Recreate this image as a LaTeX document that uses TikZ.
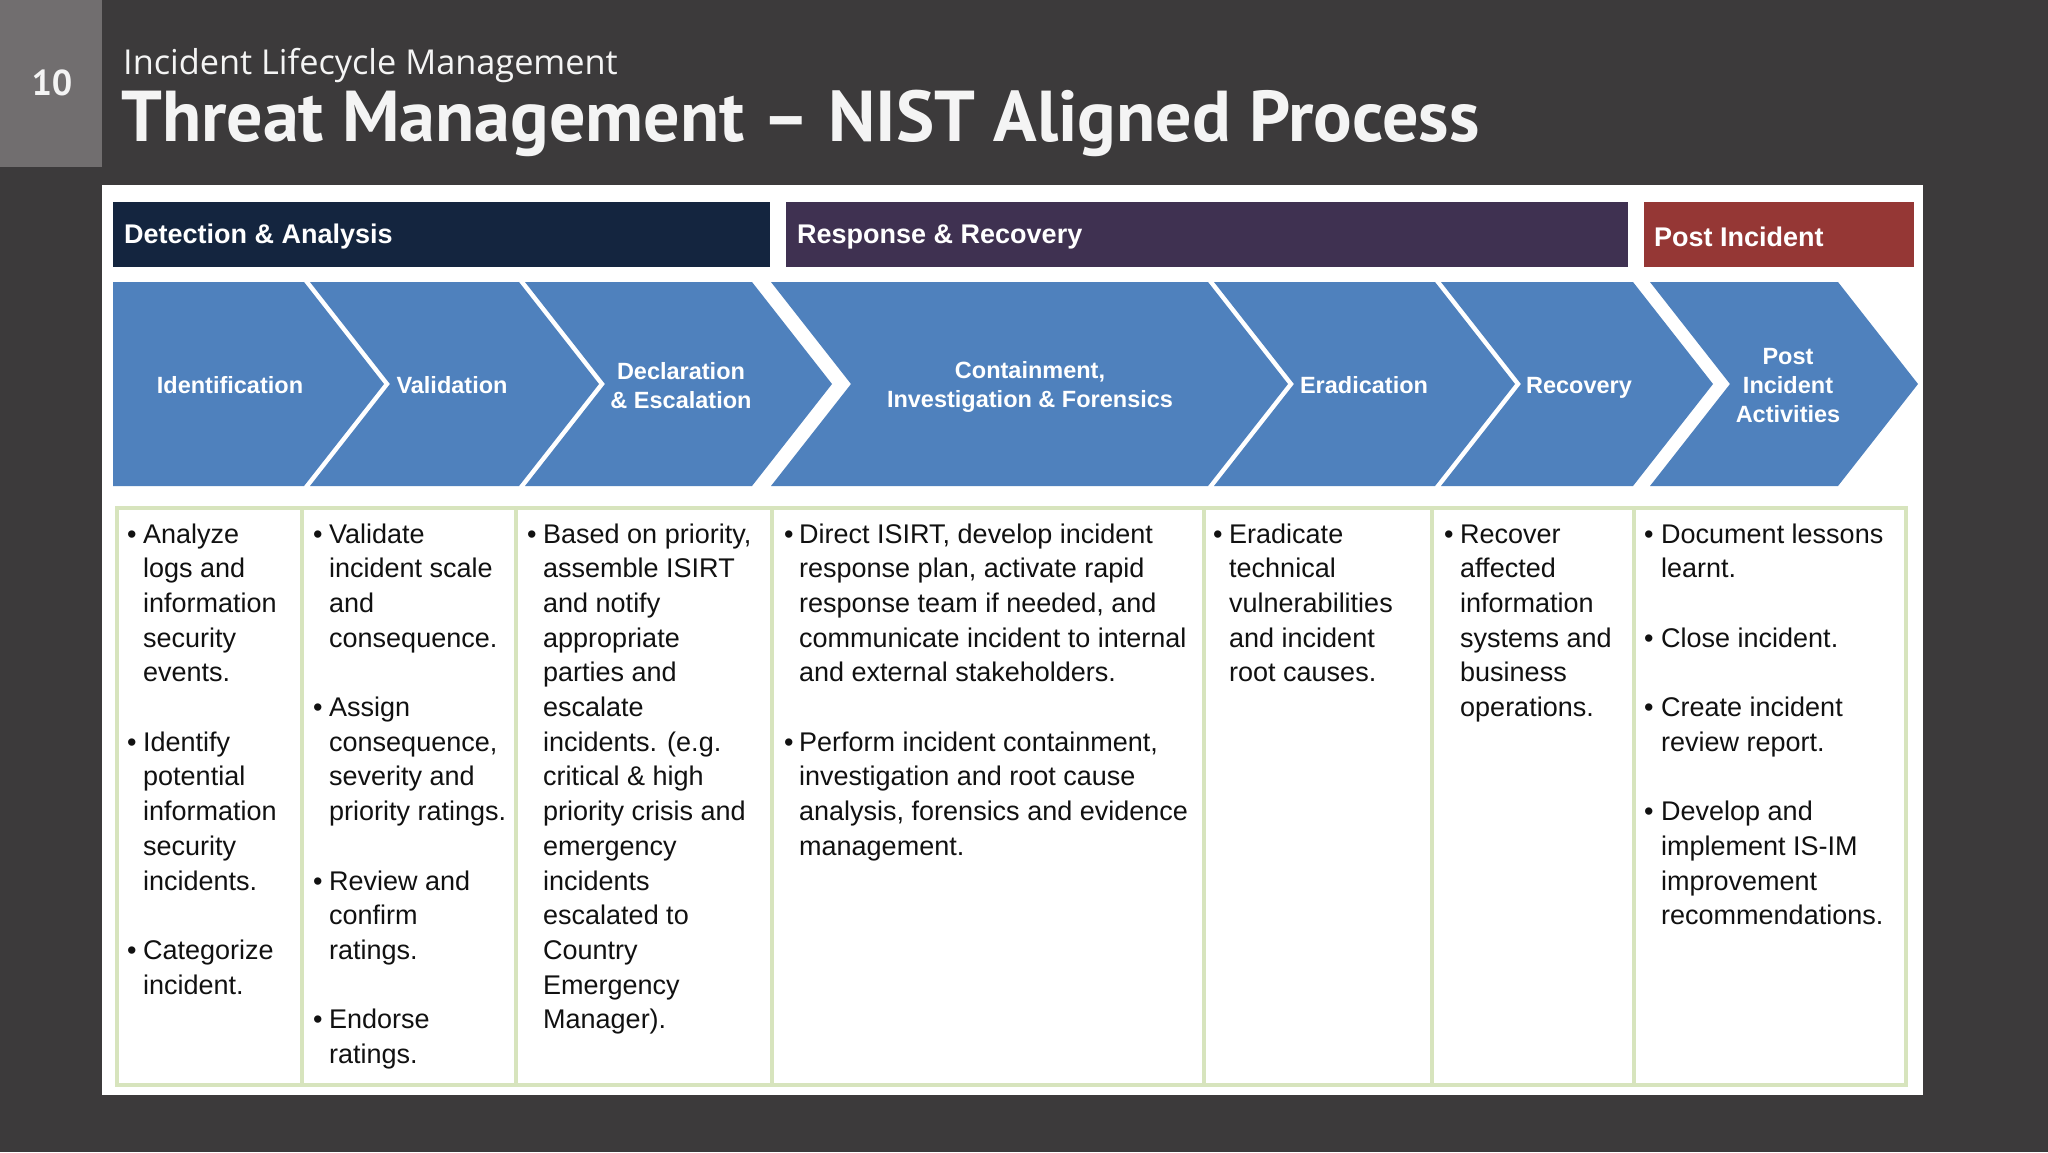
\documentclass[tikz,border=0pt]{standalone}
\usepackage{fontspec}
\setmainfont{Liberation Sans}
\newfontfamily\ttlfont{PT Sans}
\newfontfamily\subfont{Open Sans}
\definecolor{bgdark}{HTML}{3C3A3B}
\definecolor{numgray}{HTML}{716E6F}
\definecolor{navy}{HTML}{14253F}
\definecolor{plum}{HTML}{3F3151}
\definecolor{brick}{HTML}{953735}
\definecolor{chevblue}{HTML}{4F81BD}
\definecolor{cellborder}{HTML}{D7E4BD}
\definecolor{celltxt}{HTML}{111111}
\definecolor{ttlwhite}{HTML}{F4F4F4}
\newcommand\celllines[3]{\foreach \i/\t in {#3} \node[celltext] (c#1-\i) at (#2,{543+34.7*\i}) {\t};}
\newcommand\cellbullets[3]{\foreach \i in {#3} \node[bul] (b#1-\i) at (#2,{543+34.7*\i}) {•};}
\begin{document}
\begin{tikzpicture}[x=1pt,y=-1pt,
  hdrtext/.style={anchor=west,inner sep=0pt,text=white,font=\fontsize{27}{30}\selectfont\bfseries},
  chevlabel/.style={align=center,inner sep=0pt,text=white,font=\fontsize{23.5}{29}\selectfont\bfseries},
  celltext/.style={anchor=base west,inner sep=0pt,text=celltxt,font=\fontsize{27}{34.7}\selectfont},
  bul/.style={anchor=base west,inner sep=0pt,text=celltxt,font=\fontsize{27}{34.7}\selectfont},
  chevron/.style={fill=chevblue},
  cellbox/.style={draw=cellborder,line width=4pt,fill=white}]
\fill[bgdark] (0,0) rectangle (2048,1152);
\useasboundingbox (0,0) rectangle (2048,1152);
% slide number and titles
\fill[numgray] (0,0) rectangle (102,167);
\node[text=ttlwhite,inner sep=0pt,font=\ttlfont\bfseries\fontsize{36}{40}\selectfont] (num) at (52,83) {10};
\node[anchor=base west,inner sep=0pt,text=ttlwhite,font=\subfont\fontsize{34.3}{40}\selectfont] (sub) at (123,74) {Incident Lifecycle Management};
\node[anchor=base west,inner sep=0pt,text=ttlwhite,font=\ttlfont\bfseries\fontsize{72}{80}\selectfont] (title) at (121,141) {Threat Management – NIST Aligned Process};
% white panel
\fill[white] (102,185) rectangle (1923,1095);
% phase headers
\fill[navy] (113,202) rectangle (770,267);
\fill[plum] (786,202) rectangle (1628,267);
\fill[brick] (1644,202) rectangle (1914,267);
\node[hdrtext] (h1) at (124,237) {Detection \& Analysis};
\node[hdrtext] (h2) at (797,237) {Response \& Recovery};
\node[hdrtext] (h3) at (1654,237) {Post Incident};
% chevrons
\fill[chevron] (113,282) -- (304,282) -- (384,384) -- (304,486) -- (113,486) -- cycle;
\fill[chevron] (310,282) -- (519,282) -- (599,384) -- (519,486) -- (310,486) -- (390,384) -- cycle;
\fill[chevron] (525,282) -- (752,282) -- (832,384) -- (752,486) -- (525,486) -- (605,384) -- cycle;
\fill[chevron] (771,282) -- (1208,282) -- (1288,384) -- (1208,486) -- (771,486) -- (851,384) -- cycle;
\fill[chevron] (1214,282) -- (1435,282) -- (1515,384) -- (1435,486) -- (1214,486) -- (1294,384) -- cycle;
\fill[chevron] (1441,282) -- (1633,282) -- (1713,384) -- (1633,486) -- (1441,486) -- (1521,384) -- cycle;
\fill[chevron] (1650,282) -- (1838,282) -- (1918,384) -- (1838,486) -- (1650,486) -- (1730,384) -- cycle;
\node[chevlabel] (l1) at (230,385.5) {Identification};
\node[chevlabel] (l2) at (452,385.5) {Validation};
\node[chevlabel] (l3) at (681,386) {Declaration\\\& Escalation};
\node[chevlabel] (l4) at (1030,386.5) {Containment,\\Investigation \& Forensics};
\node[chevlabel] (l5) at (1364,385.5) {Eradication};
\node[chevlabel] (l6) at (1579,388) {Recovery};
\node[chevlabel] (l7) at (1788,386) {Post\\Incident\\Activities};
% cells
\draw[cellbox] (117,508) rectangle (302,1085);
\draw[cellbox] (302,508) rectangle (516,1085);
\draw[cellbox] (516,508) rectangle (772,1085);
\draw[cellbox] (772,508) rectangle (1204,1085);
\draw[cellbox] (1204,508) rectangle (1432,1085);
\draw[cellbox] (1432,508) rectangle (1634,1085);
\draw[cellbox] (1634,508) rectangle (1906,1085);
% cell text
\cellbullets{1}{127}{0,6,12}
\celllines{1}{143}{0/Analyze,1/logs and,2/information,3/security,4/events.,6/Identify,7/potential,8/information,9/security,10/incidents.,12/Categorize,13/incident.}
\cellbullets{2}{313}{0,5,10,14}
\celllines{2}{329}{0/Validate,1/incident scale,2/and,3/consequence.,5/Assign,6/{consequence,},7/severity and,8/priority ratings.,10/Review and,11/confirm,12/ratings.,14/Endorse,15/ratings.}
\cellbullets{3}{527}{0}
\celllines{3}{543}{0/{Based on priority,},1/assemble ISIRT,2/and notify,3/appropriate,4/parties and,5/escalate,6/incidents. (e.g.,7/critical \& high,8/priority crisis and,9/emergency,10/incidents,11/escalated to,12/Country,13/Emergency,14/Manager).}
\cellbullets{4}{784}{0,6}
\celllines{4}{799}{0/{Direct ISIRT, develop incident},1/{response plan, activate rapid},2/{response team if needed,  and},3/communicate incident to internal,4/and external stakeholders.,6/{Perform incident containment,},7/investigation and root cause,8/{analysis, forensics and evidence},9/management.}
\cellbullets{5}{1213}{0}
\celllines{5}{1229}{0/Eradicate,1/technical,2/vulnerabilities,3/and incident,4/root causes.}
\cellbullets{6}{1444}{0}
\celllines{6}{1460}{0/Recover,1/affected,2/information,3/systems and,4/business,5/operations.}
\cellbullets{7}{1644}{0,3,5,8}
\celllines{7}{1661}{0/Document lessons,1/learnt.,3/Close incident.,5/Create incident,6/review report.,8/Develop and,9/implement IS-IM,10/improvement,11/recommendations.}
\end{tikzpicture}
\end{document}
